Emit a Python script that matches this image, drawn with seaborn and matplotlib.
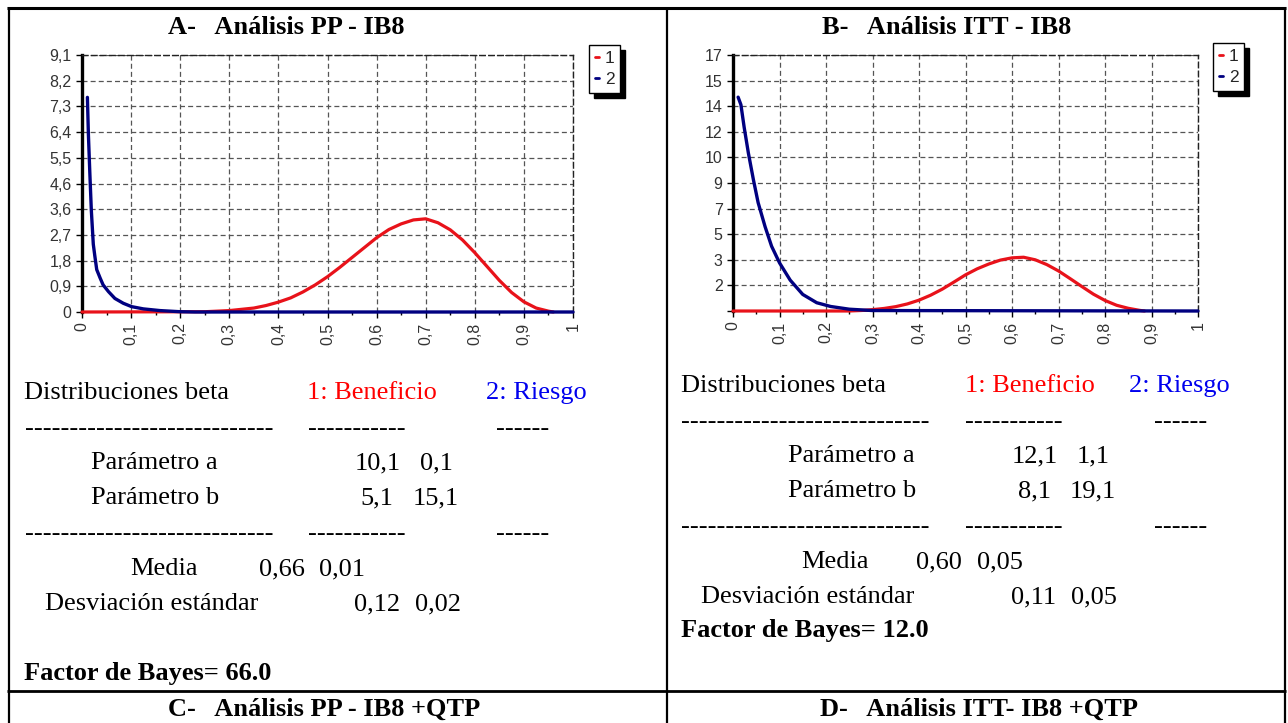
import numpy as np
import matplotlib
matplotlib.use("Agg")
import matplotlib.pyplot as plt
import seaborn as sns
from matplotlib.lines import Line2D
from matplotlib.ticker import MultipleLocator

# ---------------- data ----------------
x_ticklabels = ["0", "0,1", "0,2", "0,3", "0,4", "0,5", "0,6", "0,7", "0,8", "0,9", "1"]

A_ymax = 9.1
A_ylabels = ["0", "0,9", "1,8", "2,7", "3,6", "4,6", "5,5", "6,4", "7,3", "8,2", "9,1"]
B_ymax = 17
B_ylabels = ["", "2", "3", "5", "7", "9", "10", "12", "14", "15", "17"]

A_benef_x = [0.0, 0.25, 0.30, 0.35, 0.375, 0.40, 0.425, 0.45, 0.475, 0.50, 0.525, 0.55, 0.575,
             0.60, 0.625, 0.65, 0.675, 0.70, 0.725, 0.75, 0.775, 0.80, 0.825, 0.85, 0.875,
             0.90, 0.925, 0.95, 0.96]
A_benef_y = [0.0, 0.01, 0.05, 0.14, 0.23, 0.35, 0.50, 0.71, 0.96, 1.25, 1.58, 1.93, 2.28,
             2.63, 2.92, 3.12, 3.26, 3.30, 3.16, 2.91, 2.55, 2.10, 1.61, 1.12, 0.69,
             0.36, 0.14, 0.03, 0.0]
A_riesgo_x = [0.011, 0.013, 0.016, 0.019, 0.023, 0.026, 0.030, 0.037, 0.043, 0.054, 0.067,
              0.084, 0.101, 0.125, 0.159, 0.20, 0.23, 1.0]
A_riesgo_y = [7.6, 6.3, 4.9, 3.6, 2.4, 2.0, 1.5, 1.2, 0.96, 0.72, 0.48,
              0.31, 0.19, 0.11, 0.05, 0.01, 0.0, 0.0]

B_benef_x = [0.0, 0.25, 0.28, 0.30, 0.325, 0.35, 0.375, 0.40, 0.425, 0.45, 0.475, 0.50, 0.525,
             0.55, 0.575, 0.60, 0.625, 0.65, 0.675, 0.70, 0.725, 0.75, 0.775, 0.80, 0.825,
             0.85, 0.875, 0.885]
B_benef_y = [0.0, 0.0, 0.04, 0.09, 0.17, 0.29, 0.47, 0.72, 1.05, 1.45, 1.92, 2.40, 2.80,
             3.12, 3.38, 3.53, 3.57, 3.40, 3.08, 2.66, 2.15, 1.63, 1.12, 0.70, 0.38,
             0.18, 0.04, 0.0]
B_riesgo_x = [0.011, 0.017, 0.024, 0.033, 0.044, 0.054, 0.069, 0.083, 0.10, 0.123, 0.15,
              0.18, 0.21, 0.25, 0.30, 1.0]
B_riesgo_y = [14.2, 13.7, 12.2, 10.5, 8.7, 7.2, 5.6, 4.3, 3.2, 2.05, 1.1,
              0.55, 0.3, 0.12, 0.03, 0.0]

A_title = "A-   Análisis PP - IB8"
B_title = "B-   Análisis ITT - IB8"
C_title = "C-   Análisis PP - IB8 +QTP"
D_title = "D-   Análisis ITT- IB8 +QTP"

A_param_a = [10.1, 0.1]
A_param_b = [5.1, 15.1]
A_media = [0.66, 0.01]
A_sd = [0.12, 0.02]
A_bayes = 66.0

B_param_a = [12.1, 1.1]
B_param_b = [8.1, 19.1]
B_media = [0.60, 0.05]
B_sd = [0.11, 0.05]
B_bayes = 12.0

# ---------------- style ----------------
sns.set_style("white")
plt.rcParams['font.family'] = ['Liberation Sans', 'DejaVu Sans']

W, H = 1288, 723
fig = plt.figure(figsize=(W / 100, H / 100), dpi=100)
fig.patch.set_facecolor("white")

RED = "#e8121a"
NAVY = "#000080"
TXT_RED = "#ff0000"
TXT_BLUE = "#0000ee"
SERIF = ['Liberation Serif', 'DejaVu Serif']


def fmt(v, d):
    return f"{v:.{d}f}".replace(".", ",")


def px_rect(x0, y0, x1, y1):
    return [x0 / W, 1 - y1 / H, (x1 - x0) / W, (y1 - y0) / H]


def draw_chart(rect, bx, by, rx, ry, ymax, ylabels, leg_anchor):
    ax = fig.add_axes(rect)
    sns.lineplot(x=bx, y=by, ax=ax, color=RED, linewidth=2.3, label="1",
                 estimator=None, sort=False, clip_on=False, zorder=3)
    sns.lineplot(x=rx, y=ry, ax=ax, color=NAVY, linewidth=2.4, label="2",
                 estimator=None, sort=False, clip_on=False, zorder=4)
    ax.set_xlim(0, 1)
    ax.set_ylim(0, ymax)
    ax.set_xticks(np.linspace(0, 1, len(x_ticklabels)))
    ax.set_xticklabels(x_ticklabels, rotation=90)
    ax.xaxis.set_minor_locator(MultipleLocator(0.05))
    ax.set_yticks(np.linspace(0, ymax, len(ylabels)))
    ax.set_yticklabels(ylabels)
    ax.set_xlabel("")
    ax.set_ylabel("")
    ax.grid(True, which="major", color="#555555", linestyle=(0, (4, 2.5)), linewidth=0.9)
    ax.set_axisbelow(True)
    ax.tick_params(axis="both", which="major", labelsize=11.5, labelcolor="#333333",
                   color="black", length=4.5, width=1, pad=3)
    ax.tick_params(axis="x", which="minor", length=2.5, width=1, color="black",
                   bottom=True)
    ax.tick_params(axis="x", bottom=True)
    ax.tick_params(axis="y", left=True)
    for s in ["top", "right"]:
        ax.spines[s].set_visible(True)
        ax.spines[s].set_linestyle((0, (4, 2.5)))
        ax.spines[s].set_color("#222222")
        ax.spines[s].set_linewidth(1.0)
    ax.spines["left"].set_color("black")
    ax.spines["left"].set_linewidth(2.4)
    ax.spines["bottom"].set_color("black")
    ax.spines["bottom"].set_linewidth(1.2)
    shadow = {'ox': 3.5, 'oy': -3.5, 'facecolor': 'black', 'edgecolor': 'black', 'alpha': 1}
    kw = dict(loc="upper left", bbox_to_anchor=leg_anchor, frameon=True,
              fancybox=False, edgecolor="black", framealpha=1, fontsize=12.5,
              handlelength=0.25, handletextpad=0.3, borderpad=0.35,
              labelspacing=0.3, borderaxespad=0)
    try:
        leg = ax.legend(shadow=shadow, **kw)
    except Exception:
        leg = ax.legend(shadow=True, **kw)
    leg.get_frame().set_linewidth(1.0)
    for h in leg.get_lines():
        h.set_linewidth(2.0)
    return ax


axA = draw_chart(px_rect(82, 55, 573, 312), A_benef_x, A_benef_y, A_riesgo_x, A_riesgo_y,
                 A_ymax, A_ylabels, ((589 - 82) / 491, (312 - 45) / 257))
axB = draw_chart(px_rect(733, 55, 1198, 311), B_benef_x, B_benef_y, B_riesgo_x, B_riesgo_y,
                 B_ymax, B_ylabels, ((1213 - 733) / 465, (311 - 43) / 256))


# ---------------- table lines ----------------
def fline(xs, ys, lw):
    fig.add_artist(Line2D([x / W for x in xs], [1 - y / H for y in ys], color="black",
                          linewidth=lw, transform=fig.transFigure, solid_capstyle="butt"))


fline([7, 1286], [7.5, 7.5], 2.2)
fline([7, 1286], [690.5, 690.5], 2.0)
fline([8.5, 8.5], [6.5, 723], 1.6)
fline([667, 667], [6.5, 723], 1.6)
fline([1284.5, 1284.5], [6.5, 723], 1.6)


# ---------------- text ----------------
def ftext(x, y, s, ha="left", weight="normal", color="black", size=19):
    fig.text(x / W, 1 - y / H, s, fontfamily=SERIF, fontsize=size, va="baseline", ha=ha,
             fontweight=weight, color=color)


def panel_text(x_dist, x_ben, x_rie, x_d1, x_d2, x_d3, x_param, x_media, x_sd,
               y_head, y_dash1, y_pa, y_pb, y_dash2, y_med, y_sd, y_bayes,
               num_pa, num_pb, num_med, num_sd, pa, pb, med, sd, bayes):
    ftext(x_dist, y_head, "Distribuciones beta")
    ftext(x_ben, y_head, "1: Beneficio", color=TXT_RED)
    ftext(x_rie, y_head, "2: Riesgo", color=TXT_BLUE)
    for yd in (y_dash1, y_dash2):
        ftext(x_d1, yd, "-" * 28)
        ftext(x_d2, yd, "-" * 11)
        ftext(x_d3, yd, "-" * 6)
    ftext(x_param, y_pa, "Parámetro a")
    ftext(x_param, y_pb, "Parámetro b")
    ftext(x_media, y_med, "Media")
    ftext(x_sd, y_sd, "Desviación estándar")
    ftext(num_pa[0], y_pa, fmt(pa[0], 1))
    ftext(num_pa[1], y_pa, fmt(pa[1], 1), ha="right")
    ftext(num_pb[0], y_pb, fmt(pb[0], 1))
    ftext(num_pb[1], y_pb, fmt(pb[1], 1), ha="right")
    ftext(num_med[0], y_med, fmt(med[0], 2))
    ftext(num_med[1], y_med, fmt(med[1], 2), ha="right")
    ftext(num_sd[0], y_sd, fmt(sd[0], 2))
    ftext(num_sd[1], y_sd, fmt(sd[1], 2), ha="right")
    ftext(x_dist, y_bayes, f"Factor de Bayes= {bayes:.1f}", weight="bold")


panel_text(24, 307, 486, 25, 308, 496, 91, 130, 45,
           399, 435, 469, 504, 540, 575, 610, 680,
           (355, 453), (360, 459), (259, 365), (354, 461),
           A_param_a, A_param_b, A_media, A_sd, A_bayes)
panel_text(681, 965, 1129, 681, 965, 1154, 788, 801, 701,
           392, 428, 462, 497, 533, 568, 603, 637,
           (1012, 1110), (1018, 1116), (916, 1023), (1011, 1117),
           B_param_a, B_param_b, B_media, B_sd, B_bayes)

ftext(168, 34, A_title, weight="bold")
ftext(822, 34, B_title, weight="bold")
ftext(168, 716, C_title, weight="bold")
ftext(820, 716, D_title, weight="bold")

fig.savefig("out.png", dpi=100, facecolor="white")
